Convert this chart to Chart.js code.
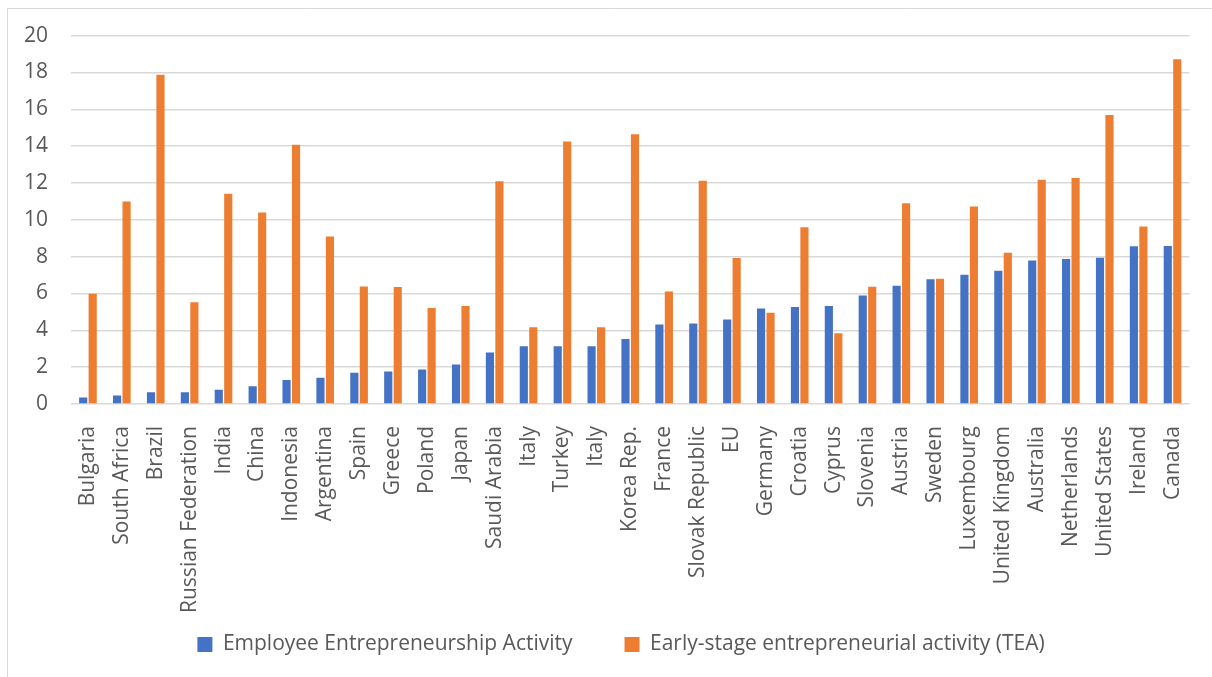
<!DOCTYPE html>
<html>
<head>
<meta charset="utf-8">
<script src="https://cdn.jsdelivr.net/npm/chart.js@4/dist/chart.umd.min.js"></script>
<style>
  html, body { margin: 0; padding: 0; background: #ffffff; }
  #wrap { position: relative; width: 1212px; height: 677px; }
</style>
</head>
<body>
<div id="wrap"><canvas id="myChart" width="1212" height="677"></canvas></div>
<script>
// countries on the x axis
var countries = ["Bulgaria", "South Africa", "Brazil", "Russian Federation", "India", "China",
  "Indonesia", "Argentina", "Spain", "Greece", "Poland", "Japan", "Saudi Arabia", "Italy",
  "Turkey", "Italy", "Korea Rep.", "France", "Slovak Republic", "EU", "Germany", "Croatia",
  "Cyprus", "Slovenia", "Austria", "Sweden", "Luxembourg", "United Kingdom", "Australia",
  "Netherlands", "United States", "Ireland", "Canada"];

var employeeActivity = [0.35, 0.46, 0.64, 0.64, 0.77, 0.97, 1.3, 1.43, 1.7, 1.76, 1.87, 2.14,
  2.8, 3.13, 3.13, 3.13, 3.53, 4.32, 4.37, 4.59, 5.19, 5.27, 5.32, 5.89, 6.42, 6.77, 7.02,
  7.24, 7.79, 7.87, 7.94, 8.56, 8.58];

var teaActivity = [5.98, 10.99, 17.87, 5.52, 11.41, 10.39, 14.08, 9.1, 6.38, 6.35, 5.21, 5.32,
  12.09, 4.17, 14.25, 4.17, 14.65, 6.11, 12.12, 7.92, 4.96, 9.6, 3.84, 6.36, 10.9, 6.8, 10.72,
  8.21, 12.18, 12.27, 15.69, 9.64, 18.72];

var seriesNames = ["Employee Entrepreneurship Activity", "Early-stage entrepreneurial activity (TEA)"];

var textColor = "#595959";
var gridColor = "#d9d9d9";
var fontName = "'Open Sans', 'Liberation Sans', sans-serif";

// draw the light gray frame around the chart like in Excel
var framePlugin = {
  id: "frame",
  beforeDraw: function (chart) {
    var ctx = chart.ctx;
    ctx.save();
    ctx.strokeStyle = gridColor;
    ctx.lineWidth = 1;
    ctx.beginPath();
    ctx.moveTo(7.5, 677);
    ctx.lineTo(7.5, 8.5);
    ctx.lineTo(1212, 8.5);
    ctx.stroke();
    ctx.restore();
  }
};

// the long rotated country names run down into the legend band, so
// let the x axis box reach the bottom (labels are clipped to the box),
// and move the legend a bit to the right like in the original
var layoutPlugin = {
  id: "tweakLayout",
  afterLayout: function (chart) {
    chart.scales.x.bottom = chart.height;
    chart.legend.left += 24;
    chart.legend.right += 24;
  }
};

var ctx = document.getElementById("myChart").getContext("2d");
var myChart = new Chart(ctx, {
  type: "bar",
  data: {
    labels: countries,
    datasets: [
      {
        label: seriesNames[0],
        backgroundColor: "#4472C4",
        data: employeeActivity,
        barPercentage: 0.86,
        categoryPercentage: 0.56
      },
      {
        label: seriesNames[1],
        backgroundColor: "#ED7D31",
        data: teaActivity,
        barPercentage: 0.86,
        categoryPercentage: 0.56
      }
    ]
  },
  options: {
    responsive: false,
    animation: false,
    layout: {
      padding: { left: 0, right: 18, top: 34, bottom: 12 }
    },
    plugins: {
      tooltip: { enabled: false },
      legend: {
        position: "bottom",
        labels: {
          color: textColor,
          font: { family: fontName, size: 21 },
          boxWidth: 15,
          boxHeight: 15,
          padding: 52
        }
      }
    },
    scales: {
      x: {
        grid: { display: false },
        border: { display: false },
        ticks: {
          color: textColor,
          font: { family: fontName, size: 21 },
          minRotation: 90,
          maxRotation: 90,
          autoSkip: false,
          padding: 14
        },
        afterFit: function (scale) {
          scale.height = 178;
        }
      },
      y: {
        min: 0,
        max: 20,
        ticks: {
          stepSize: 2,
          color: textColor,
          font: { family: fontName, size: 21 },
          padding: 23
        },
        grid: { color: gridColor, lineWidth: 1.5, drawTicks: false },
        border: { display: false },
        afterFit: function (scale) {
          scale.width = 71;
        }
      }
    }
  },
  plugins: [framePlugin, layoutPlugin]
});
</script>
</body>
</html>
